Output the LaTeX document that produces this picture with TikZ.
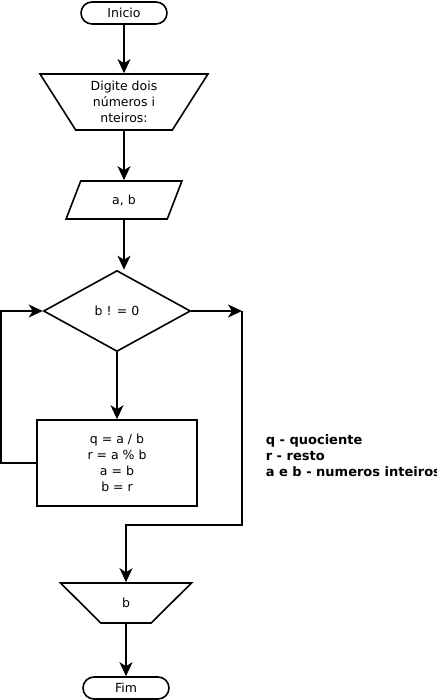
\documentclass[tikz,border=0pt]{standalone}
\usepackage{fontspec}
\setmainfont{DejaVu Sans}
\usetikzlibrary{shapes.geometric,shapes.misc,arrows.meta}
\begin{document}
\begin{tikzpicture}[x=1pt,y=-1pt,
  every node/.style={font=\fontsize{12.5}{16}\selectfont, inner sep=0pt, line width=1.6pt},
  term/.style={draw, rounded rectangle, minimum width=86, minimum height=22},
  manin/.style={draw, trapezium, shape border rotate=180, trapezium stretches=true, align=center},
  inbox/.style={draw, trapezium, trapezium left angle=70, trapezium right angle=110, trapezium stretches=true, minimum width=116, minimum height=38},
  dec/.style={draw, diamond, minimum width=147, minimum height=81},
  proc/.style={draw, rectangle, minimum width=160, minimum height=86, align=center},
  conn/.style={line width=1.8pt},
  arr/.style={conn, -{Stealth[length=14pt,width=13pt,inset=4pt]}},
  legend/.style={font=\fontsize{13}{16}\selectfont\bfseries, align=left, anchor=west}
]
\useasboundingbox (0,0) rectangle (436,700);
\node[term] (ini) at (124,13) {Inicio};
\node[manin, trapezium left angle=59.5, trapezium right angle=59.5, minimum width=168, minimum height=56] (dig) at (124,102) {Digite dois\\números i\\nteiros:};
\node[inbox] (ab) at (124,200) {a, b};
\node[dec] (cond) at (117,311) {b ! = 0};
\node[proc] (calc) at (117,463) {q = a / b\\r = a \% b\\a = b\\b = r};
\node[manin, trapezium left angle=57, trapezium right angle=57, minimum width=131, minimum height=40] (out) at (126,603) {b};
\node[term] (fim) at (126,688) {Fim};
\node[legend] (leg) at (265,456) {q - quociente\\r - resto\\a e b - numeros inteiros};
\coordinate (r1) at (242,311);
\coordinate (r2) at (242,525);
\coordinate (l1) at (1,463);
\coordinate (l2) at (1,311);
\draw[arr] (ini.south) -- (dig.north);
\draw[arr] (dig.south) -- (ab.north);
\draw[arr] (ab.south) -- (ab.south |- cond.north);
\draw[arr] (cond.east) -- (r1);
\draw[arr] (r1) -- (r2) -| (out.north);
\draw[arr] (cond.south) -- (calc.north);
\draw[arr] (calc.west) -- (l1) -- (l2) -- (cond.west);
\draw[arr] (out.south) -- (fim.north);
\end{tikzpicture}
\end{document}
